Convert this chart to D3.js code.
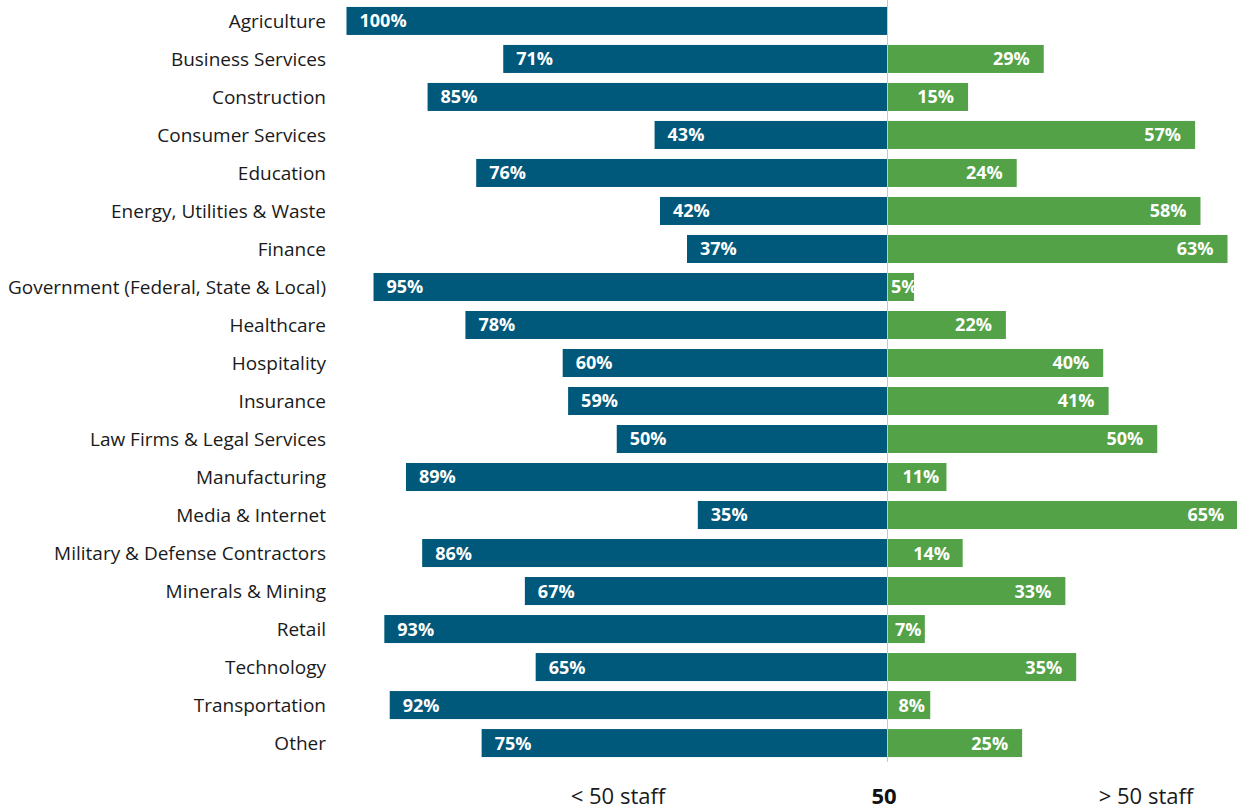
<!DOCTYPE html>
<html>
<head>
<meta charset="utf-8">
<script src="https://cdn.jsdelivr.net/npm/d3@7"></script>
<style>
  html, body { margin: 0; padding: 0; background: #fff; }
  svg { display: block; }
  text { font-family: "Open Sans", "Noto Sans", sans-serif; }
</style>
</head>
<body>
<svg id="chart" width="1237" height="810"></svg>
<script>
// Share of organisations by staff size, per industry
const categories = [
  "Agriculture", "Business Services", "Construction", "Consumer Services",
  "Education", "Energy, Utilities & Waste", "Finance",
  "Government (Federal, State & Local)", "Healthcare", "Hospitality",
  "Insurance", "Law Firms & Legal Services", "Manufacturing",
  "Media & Internet", "Military & Defense Contractors", "Minerals & Mining",
  "Retail", "Technology", "Transportation", "Other"
];
const underFifty = [100, 71, 85, 43, 76, 42, 37, 95, 78, 60, 59, 50, 89, 35, 86, 67, 93, 65, 92, 75];
const overFifty  = [0, 29, 15, 57, 24, 58, 63, 5, 22, 40, 41, 50, 11, 65, 14, 33, 7, 35, 8, 25];
const axisLabels = ["< 50 staff", "50", "> 50 staff"];

const svg = d3.select("#chart");
const centerX = 887;
const pxPerPct = 5.405;

const xLeft = d3.scaleLinear().domain([0, 100]).range([centerX, centerX - 100 * pxPerPct]);
const xRight = d3.scaleLinear().domain([0, 100]).range([centerX, centerX + 100 * pxPerPct]);
const y = d3.scaleBand().domain(categories).range([2, 762]).paddingInner(0.263).paddingOuter(0.13);

const blue = "#00587a";
const green = "#53a247";

const rows = categories.map((c, i) => ({ cat: c, left: underFifty[i], right: overFifty[i], i }));

// Category labels
svg.append("g").selectAll("text").data(rows).join("text")
  .attr("x", 326)
  .attr("y", d => y(d.cat) + y.bandwidth() / 2)
  .attr("dy", "0.35em")
  .attr("text-anchor", "end")
  .attr("font-size", 19)
  .attr("fill", "#1a1a1a")
  .text(d => d.cat);

const defs = svg.append("defs");

// Left bars (< 50 staff)
const gl = svg.append("g");
gl.selectAll("rect").data(rows.filter(d => d.left > 0)).join("rect")
  .attr("x", d => xLeft(d.left))
  .attr("y", d => y(d.cat))
  .attr("width", d => xLeft(0) - xLeft(d.left))
  .attr("height", y.bandwidth())
  .attr("fill", blue);

gl.selectAll("text").data(rows.filter(d => d.left > 0)).join("text")
  .attr("x", d => xLeft(d.left) + 13)
  .attr("y", d => y(d.cat) + y.bandwidth() / 2)
  .attr("dy", "0.36em")
  .attr("font-size", 18)
  .attr("font-weight", 700)
  .attr("fill", "#fff")
  .text(d => d.left + "%");

// Right bars (> 50 staff)
const rightRows = rows.filter(d => d.right > 0);
const gr = svg.append("g");
gr.selectAll("rect").data(rightRows).join("rect")
  .attr("x", xRight(0) + 1)
  .attr("y", d => y(d.cat))
  .attr("width", d => xRight(d.right) - xRight(0) - 1)
  .attr("height", y.bandwidth())
  .attr("fill", green);

rightRows.forEach(d => {
  defs.append("clipPath").attr("id", "clip-r" + d.i)
    .append("rect")
    .attr("x", xRight(0) + 1)
    .attr("y", y(d.cat))
    .attr("width", xRight(d.right) - xRight(0) - 1)
    .attr("height", y.bandwidth());
});

gr.selectAll("text").data(rightRows).join("text")
  .attr("y", d => y(d.cat) + y.bandwidth() / 2)
  .attr("dy", "0.36em")
  .attr("font-size", 18)
  .attr("font-weight", 700)
  .attr("fill", "#fff")
  .attr("clip-path", d => "url(#clip-r" + d.i + ")")
  .text(d => d.right + "%")
  .each(function (d) {
    const w = this.getComputedTextLength();
    const barStart = xRight(0) + 1;
    const barEnd = xRight(d.right);
    const slack = barEnd - barStart - w;
    const pad = Math.max(0, Math.min(14, slack / 3));
    let x = barEnd - pad - w;
    if (x < barStart + 3) x = barStart + 3;
    d3.select(this).attr("x", x);
  });

// Center divider
svg.append("line")
  .attr("x1", centerX + 0.5).attr("x2", centerX + 0.5)
  .attr("y1", 0).attr("y2", 762)
  .attr("stroke", "#c8c8c8")
  .attr("stroke-width", 1);

// Bottom axis labels
const bottom = svg.append("g");
bottom.append("text")
  .attr("x", 618).attr("y", 804)
  .attr("text-anchor", "middle")
  .attr("font-size", 22)
  .attr("fill", "#1a1a1a")
  .text(axisLabels[0]);
bottom.append("text")
  .attr("x", centerX - 3).attr("y", 804)
  .attr("text-anchor", "middle")
  .attr("font-size", 22)
  .attr("font-weight", 700)
  .attr("fill", "#111")
  .text(axisLabels[1]);
bottom.append("text")
  .attr("x", 1146).attr("y", 804)
  .attr("text-anchor", "middle")
  .attr("font-size", 22)
  .attr("fill", "#1a1a1a")
  .text(axisLabels[2]);
</script>
</body>
</html>
